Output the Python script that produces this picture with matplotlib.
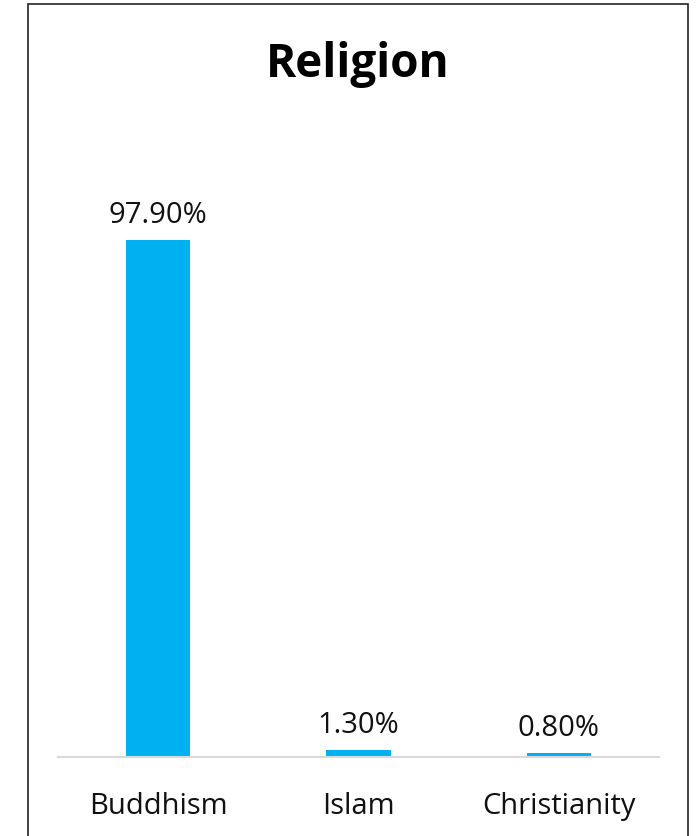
import matplotlib.pyplot as plt
from matplotlib.patches import Rectangle

plt.rcParams['font.family'] = ['Open Sans', 'DejaVu Sans']

# Religion shares (%)
religions = ['Buddhism', 'Islam', 'Christianity']
shares = [97.9, 1.3, 0.8]
value_labels = ['97.90%', '1.30%', '0.80%']

W, H = 697, 836
fig = plt.figure(figsize=(W / 100, H / 100), dpi=100)

# axes box in pixel terms: x 58..659, baseline at y=757, 100% at y=229
ax = fig.add_axes([58 / W, (H - 757) / H, (659 - 58) / W, (757 - 229) / H])
x = range(len(religions))
ax.bar(x, shares, width=0.32, color='#00B0F0')
ax.set_xlim(-0.5, 2.5)
ax.set_ylim(0, 100)

for xi, v, lbl in zip(x, shares, value_labels):
    ax.annotate(lbl, (xi, v), xytext=(0, 7), textcoords='offset points',
                ha='center', va='bottom', fontsize=21, color='#111111')

ax.set_xticks(list(x))
ax.set_xticklabels(religions, fontsize=21, color='#111111')
ax.tick_params(axis='x', length=0, pad=25)
ax.set_yticks([])
for side in ['top', 'left', 'right']:
    ax.spines[side].set_visible(False)
ax.spines['bottom'].set_color('#d9d9d9')
ax.spines['bottom'].set_linewidth(1.5)

fig.text(358 / W, 1 - 64 / H, 'Religion', ha='center', va='center',
         fontsize=33, fontweight='bold', color='black')

# outer frame, bottom edge runs past the image
fig.patches.append(Rectangle((28.5 / W, -0.05), (688 - 28.5) / W, 1.05 - 4.5 / H,
                             transform=fig.transFigure, fill=False,
                             edgecolor='#222222', linewidth=1.2))

fig.savefig('out.png', dpi=100)
